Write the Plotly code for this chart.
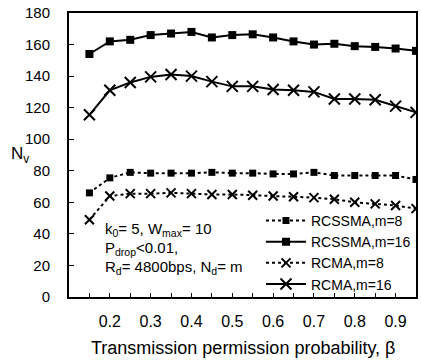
import plotly.graph_objects as go

beta = [0.15, 0.20, 0.25, 0.30, 0.35, 0.40, 0.45, 0.50, 0.55, 0.60,
        0.65, 0.70, 0.75, 0.80, 0.85, 0.90, 0.95]

rcssma_m8 = [66, 75.5, 79, 78.5, 78.5, 78.5, 79, 78.5, 78.5, 78,
             78, 79, 77, 77, 77, 77, 74.5]
rcssma_m16 = [154, 162, 163, 166, 167, 168, 164.5, 166, 166.5, 164.5,
              162, 160, 160.5, 159, 158.5, 157.5, 156]
rcma_m8 = [49, 64, 65.5, 65.5, 66, 65.5, 65, 65, 64.5, 64,
           63.5, 63, 62, 60, 59, 58, 56]
rcma_m16 = [115.5, 131, 136, 139.5, 141, 140, 136.5, 133.5, 133.5, 131.5,
            131, 130, 125.5, 125.5, 125, 121, 117]

x_tickvals = [0.15, 0.2, 0.25, 0.3, 0.35, 0.4, 0.45, 0.5, 0.55, 0.6,
              0.65, 0.7, 0.75, 0.8, 0.85, 0.9]
x_ticktext = ["", "0.2", "", "0.3", "", "0.4", "", "0.5", "", "0.6",
              "", "0.7", "", "0.8", "", "0.9"]
y_tickvals = [0, 20, 40, 60, 80, 100, 120, 140, 160, 180]

FONT = "Liberation Sans, Arial, sans-serif"

fig = go.Figure()
fig.add_trace(go.Scatter(
    x=beta, y=rcssma_m8, name="RCSSMA,m=8", mode="lines+markers",
    line=dict(color="black", width=2, dash="dot"),
    marker=dict(symbol="square", size=7, color="black")))
fig.add_trace(go.Scatter(
    x=beta, y=rcssma_m16, name="RCSSMA,m=16", mode="lines+markers",
    line=dict(color="black", width=2),
    marker=dict(symbol="square", size=8, color="black")))
fig.add_trace(go.Scatter(
    x=beta, y=rcma_m8, name="RCMA,m=8", mode="lines+markers",
    line=dict(color="black", width=2, dash="dot"),
    marker=dict(symbol="x-thin-open", size=9, color="black",
                line=dict(color="black", width=2))))
fig.add_trace(go.Scatter(
    x=beta, y=rcma_m16, name="RCMA,m=16", mode="lines+markers",
    line=dict(color="black", width=2),
    marker=dict(symbol="x-thin-open", size=11, color="black",
                line=dict(color="black", width=2))))

fig.update_layout(
    width=421, height=361,
    margin=dict(l=69, r=3, t=13, b=64),
    paper_bgcolor="white", plot_bgcolor="white",
    font=dict(family=FONT, color="black", size=15),
    showlegend=True,
    legend=dict(x=1, xanchor="right", y=-0.01, yanchor="bottom",
                bgcolor="rgba(0,0,0,0)", font=dict(size=14, family=FONT),
                tracegroupgap=0, itemwidth=40),
    xaxis=dict(range=[0.1, 0.95], tickvals=x_tickvals, ticktext=x_ticktext,
               ticks="inside", ticklen=4, tickwidth=1, tickcolor="black",
               showline=True, linecolor="black", linewidth=2, mirror=True,
               showgrid=False, zeroline=False,
               tickfont=dict(size=16, family=FONT), ticklabelstandoff=9),
    yaxis=dict(range=[0, 180], tickvals=y_tickvals,
               ticks="inside", ticklen=5, tickwidth=1, tickcolor="black",
               showline=True, linecolor="black", linewidth=2, mirror=True,
               showgrid=False, zeroline=False,
               tickfont=dict(size=15, family=FONT),
               ticklabelstandoff=14),
)

fig.add_annotation(text="Transmission permission probability, \u03b2",
                   xref="paper", yref="paper", x=0.5, y=-0.178,
                   xanchor="center", yanchor="middle", showarrow=False,
                   font=dict(size=18, family=FONT))
fig.add_annotation(text="N<sub>v</sub>", xref="paper", yref="paper",
                   x=-0.14, y=0.5, xanchor="center", yanchor="middle",
                   showarrow=False, font=dict(size=17, family=FONT))

notes = ["k<sub>0</sub>= 5, W<sub>max</sub>= 10",
         "P<sub>drop</sub><0.01,",
         "R<sub>d</sub>= 4800bps, N<sub>d</sub>= m"]
note_y = [0.236, 0.17, 0.103]
for t, yy in zip(notes, note_y):
    fig.add_annotation(text=t, xref="paper", yref="paper", x=0.097, y=yy,
                       xanchor="left", yanchor="middle", showarrow=False,
                       font=dict(size=15, family=FONT))

fig.write_html("out.html", config={"displayModeBar": False},
               post_script="document.body.style.margin='0';document.body.style.overflow='hidden';")
